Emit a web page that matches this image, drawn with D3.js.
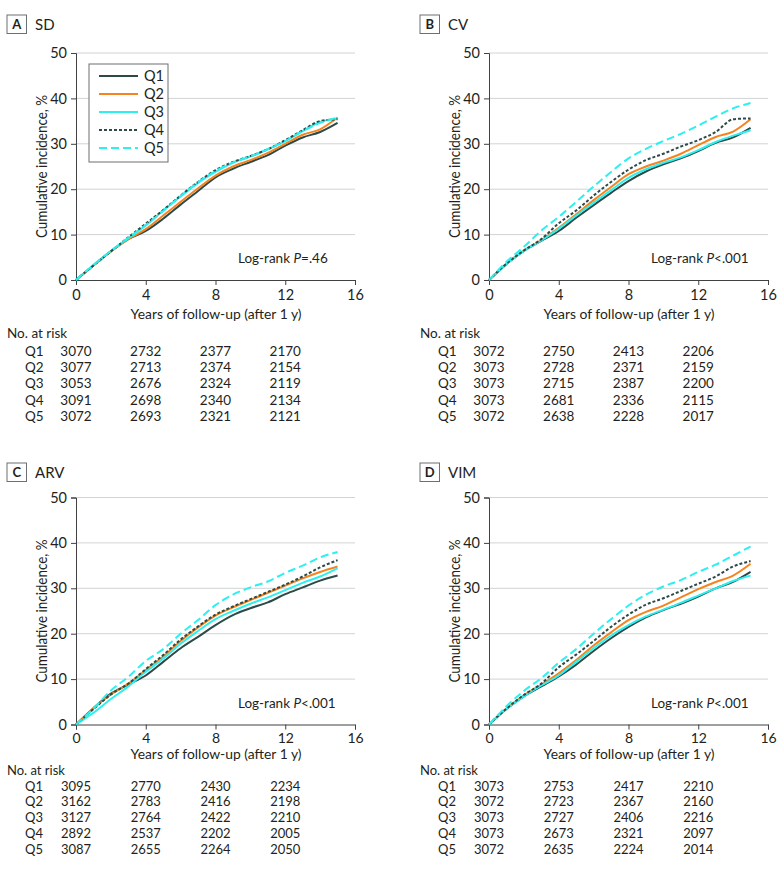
<!DOCTYPE html>
<html><head><meta charset="utf-8">
<script src="https://cdn.jsdelivr.net/npm/d3@7"></script>
<style>
html,body{margin:0;padding:0;background:#fff;}
svg text{font-family:Lato,"Open Sans",sans-serif;fill:#231f20;}
</style></head>
<body>
<svg id="chart" width="783" height="879"></svg>
<script>
const years = [0,1,2,3,4,5,6,7,8,9,10,11,12,13,14,15];
const groups = ["Q1","Q2","Q3","Q4","Q5"];
const xTicks = [0,4,8,12,16];
const yTicks = [0,10,20,30,40,50];
const riskYears = [0,4,8,12];

// Panel A – SD
const sdQ1 = [0,3.2,6.3,9.0,10.8,13.5,16.6,19.6,22.6,24.5,26.0,27.5,29.6,31.4,32.6,34.6];
const sdQ2 = [0,3.2,6.3,9.0,11.2,14.2,17.2,20.2,23.0,25.0,26.4,28.0,30.0,32.0,33.2,35.8];
const sdQ3 = [0,3.3,6.4,9.2,12.0,15.3,18.4,21.4,23.8,25.8,27.2,28.8,30.6,32.8,34.8,35.6];
const sdQ4 = [0,3.2,6.3,9.4,12.4,15.4,18.6,21.6,24.2,26.0,27.3,28.8,30.8,33.0,35.0,35.4];
const sdQ5 = [0,3.3,6.4,9.3,12.1,15.2,18.5,21.5,24.0,25.9,27.2,28.8,30.6,32.8,34.6,35.8];
// Panel B – CV
const cvQ1 = [0,3.5,6.4,8.6,10.8,13.7,16.5,19.2,21.8,23.9,25.5,26.8,28.4,30.2,31.4,33.5];
const cvQ2 = [0,3.6,6.5,8.8,11.5,14.5,17.6,20.5,23.3,25.0,26.3,27.8,29.7,31.5,32.7,35.4];
const cvQ3 = [0,3.5,6.4,8.7,11.3,14.2,17.0,19.8,22.5,24.4,25.8,27.0,28.6,30.4,31.8,33.0];
const cvQ4 = [0,3.6,6.5,9.0,12.5,15.3,18.6,21.6,24.3,26.4,27.8,29.4,30.8,32.6,35.4,35.6];
const cvQ5 = [0,4.0,7.3,10.9,13.9,17.2,20.6,23.8,26.8,28.9,30.6,32.2,34.0,36.0,37.8,39.0];
// Panel C – ARV
const arvQ1 = [0,3.6,6.8,8.8,10.8,13.8,16.8,19.3,21.9,24.1,25.6,26.9,28.7,30.2,31.7,32.8];
const arvQ2 = [0,3.6,6.6,9.0,12.0,15.0,18.4,21.4,24.0,25.8,27.4,29.0,30.6,32.2,33.6,34.8];
const arvQ3 = [0,2.6,5.6,8.4,11.6,14.5,17.8,20.6,23.2,25.0,26.6,28.0,29.6,31.2,32.6,34.4];
const arvQ4 = [0,3.4,6.6,9.0,12.2,15.3,18.7,21.6,24.2,26.0,27.6,29.2,30.8,32.6,34.6,36.2];
const arvQ5 = [0,3.5,7.5,10.5,14.0,16.6,20.0,23.0,26.3,28.6,30.2,31.5,33.4,35.0,36.8,38.0];
// Panel D – VIM
const vimQ1 = [0,3.4,6.2,8.4,10.6,13.2,16.2,19.0,21.5,23.6,25.2,26.6,28.2,30.0,31.4,33.6];
const vimQ2 = [0,3.5,6.4,8.8,11.3,14.2,17.4,20.3,23.0,24.8,26.2,28.0,29.8,31.4,32.8,35.4];
const vimQ3 = [0,3.4,6.2,8.6,10.8,13.8,16.8,19.6,21.9,23.8,25.3,26.8,28.4,30.0,31.6,32.8];
const vimQ4 = [0,3.5,6.5,9.0,12.6,15.4,18.4,21.5,24.2,26.4,27.8,29.4,31.0,32.6,34.8,36.0];
const vimQ5 = [0,4.0,7.4,10.2,13.6,16.6,20.0,23.2,26.2,28.6,30.4,31.8,33.6,35.2,37.2,39.2];

// Numbers at risk
const sdRisk  = [[3070,2732,2377,2170],[3077,2713,2374,2154],[3053,2676,2324,2119],[3091,2698,2340,2134],[3072,2693,2321,2121]];
const cvRisk  = [[3072,2750,2413,2206],[3073,2728,2371,2159],[3073,2715,2387,2200],[3073,2681,2336,2115],[3072,2638,2228,2017]];
const arvRisk = [[3095,2770,2430,2234],[3162,2783,2416,2198],[3127,2764,2422,2210],[2892,2537,2202,2005],[3087,2655,2264,2050]];
const vimRisk = [[3073,2753,2417,2210],[3072,2723,2367,2160],[3073,2727,2406,2216],[3073,2673,2321,2097],[3072,2635,2224,2014]];

const panels = [
  {letter:"A", title:"SD",  series:[sdQ1,sdQ2,sdQ3,sdQ4,sdQ5], risk:sdRisk, p:"=.46", legend:true},
  {letter:"B", title:"CV",  series:[cvQ1,cvQ2,cvQ3,cvQ4,cvQ5], risk:cvRisk, p:"<.001"},
  {letter:"C", title:"ARV", series:[arvQ1,arvQ2,arvQ3,arvQ4,arvQ5], risk:arvRisk, p:"<.001"},
  {letter:"D", title:"VIM", series:[vimQ1,vimQ2,vimQ3,vimQ4,vimQ5], risk:vimRisk, p:"<.001"}
];

const styles = [
  {color:"#2c4a48", dash:null},
  {color:"#f5841f", dash:null},
  {color:"#2cf0f0", dash:null},
  {color:"#2c4a48", dash:"3,2"},
  {color:"#2cf0f0", dash:"8,4"}
];

const svg = d3.select("#chart");
const W = 279, H = 227;

panels.forEach((pn, i) => {
  const col = i % 2, row = Math.floor(i / 2);
  const ox = 76 + col * 413;
  const oy = row === 0 ? 53 : 497.5;
  const g = svg.append("g").attr("transform", `translate(${ox},${oy})`);
  const x = d3.scaleLinear().domain([0,16]).range([0,W]);
  const y = d3.scaleLinear().domain([0,50]).range([H,0]);
  const tickFont = row === 0 ? 14.5 : 14;

  // panel label
  const lg = svg.append("g").attr("transform", `translate(${ox-69},${oy - (row===0?38:34.5)})`);
  lg.append("rect").attr("x",0).attr("y",0).attr("width",19.5).attr("height",18.5)
    .attr("fill","#fff").attr("stroke","#6d6e71").attr("stroke-width",1);
  lg.append("text").attr("x",9.75).attr("y",14).attr("text-anchor","middle")
    .attr("font-size",13).attr("font-weight","bold").text(pn.letter);
  lg.append("text").attr("x",28).attr("y",14.5).attr("font-size",15).text(pn.title);

  // grid
  g.append("g").selectAll("line").data(yTicks.filter(d=>d>0)).join("line")
    .attr("x1",0).attr("x2",W).attr("y1",d=>y(d)).attr("y2",d=>y(d))
    .attr("stroke","#d1d3d4").attr("stroke-width",1);

  // axes
  const ya = g.append("g").call(d3.axisLeft(y).tickValues(yTicks).tickSize(5).tickPadding(4));
  ya.select(".domain").attr("stroke","#414042");
  ya.selectAll(".tick line").attr("stroke","#414042");
  ya.selectAll("text").attr("font-size",14.5).attr("fill","#231f20").attr("font-family","Lato,sans-serif");
  const xa = g.append("g").attr("transform",`translate(0,${H})`)
    .call(d3.axisBottom(x).tickValues(xTicks).tickSize(5).tickPadding(row === 0 ? 4.5 : 3.5));
  xa.select(".domain").attr("stroke","#414042");
  xa.selectAll(".tick line").attr("stroke","#414042");
  xa.selectAll("text").attr("font-size",tickFont).attr("fill","#231f20").attr("font-family","Lato,sans-serif");

  // y title
  g.append("text").attr("transform",`translate(-29,${H/2}) rotate(-90)`)
    .attr("text-anchor","middle").attr("font-size",14.5)
    .attr("textLength",143).attr("lengthAdjust","spacingAndGlyphs")
    .text("Cumulative incidence, %");

  // curves
  const line = d3.line().x((d,k)=>x(years[k])).y(d=>y(d)).curve(d3.curveMonotoneX);
  pn.series.forEach((s, k) => {
    g.append("path").datum(s).attr("d",line).attr("fill","none")
      .attr("stroke",styles[k].color).attr("stroke-width",2)
      .attr("stroke-dasharray",styles[k].dash);
  });

  // log-rank
  const lt = g.append("text").attr("x",162).attr("y",H-17).attr("font-size",13.5);
  lt.append("tspan").text("Log-rank ");
  lt.append("tspan").attr("font-style","italic").text("P");
  lt.append("tspan").text(pn.p);

  // legend
  if (pn.legend) {
    const lgd = g.append("g").attr("transform","translate(13,11)");
    lgd.append("rect").attr("width",79).attr("height",98).attr("fill","#fff")
      .attr("stroke","#6d6e71").attr("stroke-width",1);
    groups.forEach((q,k)=>{
      const yy = 12 + k*18;
      lgd.append("line").attr("x1",10).attr("x2",49).attr("y1",yy).attr("y2",yy)
        .attr("stroke",styles[k].color).attr("stroke-width",2).attr("stroke-dasharray",styles[k].dash);
      lgd.append("text").attr("x",55).attr("y",yy+5).attr("font-size",14.5).text(q);
    });
  }

  // x title and risk table
  const base = row === 0
    ? {title:314, nar:333.3, r0:351, dr:16.4, fs:13.5}
    : {title:754.5, nar:770.5, r0:786.2, dr:15.7, fs:13};
  svg.append("text").attr("x",ox + 140).attr("y",base.title+4.5).attr("text-anchor","middle")
    .attr("font-size",base.fs).attr("textLength",171).attr("lengthAdjust","spacingAndGlyphs")
    .text("Years of follow-up (after 1 y)");
  svg.append("text").attr("x",ox-69).attr("y",base.nar+4.5).attr("font-size",base.fs).text("No. at risk");
  groups.forEach((q,k)=>{
    const yy = base.r0 + k*base.dr + 4.5;
    svg.append("text").attr("x",ox-51).attr("y",yy).attr("font-size",base.fs).text(q);
    pn.risk[k].forEach((v,j)=>{
      svg.append("text").attr("x",ox + x(riskYears[j])).attr("y",yy).attr("text-anchor","middle")
        .attr("font-size",base.fs).text(v);
    });
  });
});
</script>
</body></html>
